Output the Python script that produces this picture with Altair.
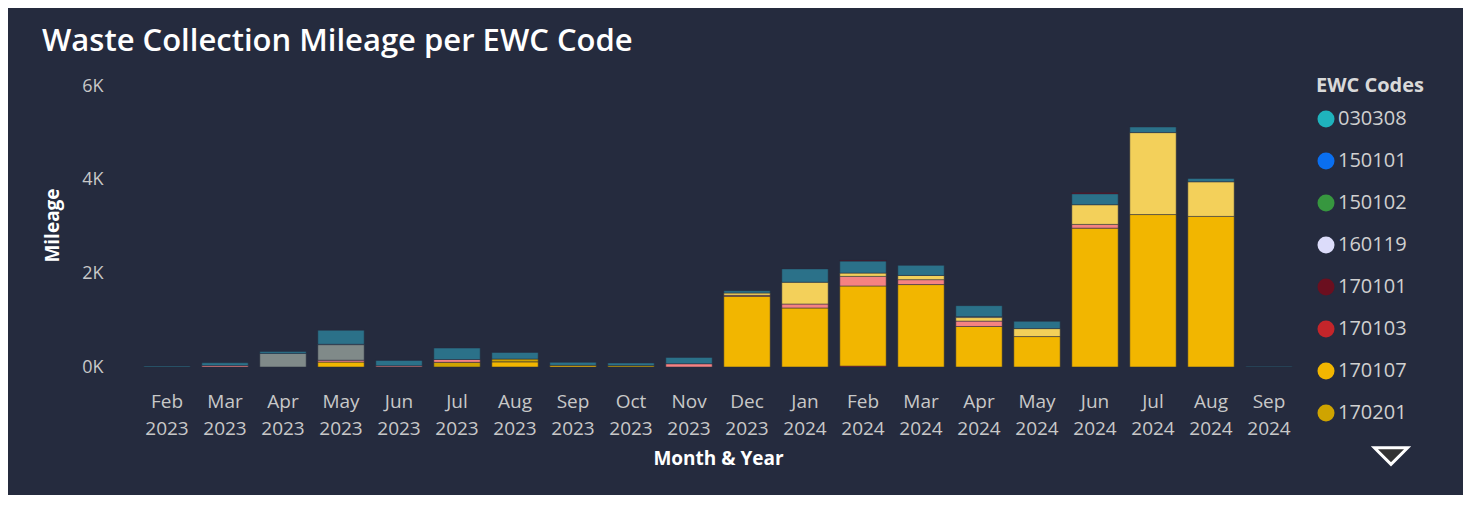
import altair as alt
import pandas as pd

months = ["Feb 2023", "Mar 2023", "Apr 2023", "May 2023", "Jun 2023", "Jul 2023",
          "Aug 2023", "Sep 2023", "Oct 2023", "Nov 2023", "Dec 2023", "Jan 2024",
          "Feb 2024", "Mar 2024", "Apr 2024", "May 2024", "Jun 2024", "Jul 2024",
          "Aug 2024", "Sep 2024"]

# legend order
codes = ["030308", "150101", "150102", "160119", "170101", "170103", "170107",
         "170201", "170203", "170504", "170802", "170904"]
colors = ["#1FB3BD", "#0A6FF0", "#37973F", "#DCDCFA", "#6B0F1F", "#C4252A", "#F2B600",
          "#CFA400", "#F58282", "#F3D05A", "#808A89", "#2B7189"]
legend_codes = codes[:8]

# stacking order, bottom to top
stack_order = ["030308", "150101", "150102", "170103", "170107", "170201", "170203",
               "170504", "170802", "160119", "170904", "170101"]

v_030308 = [0] * 20
v_150101 = [0] * 20
v_150102 = [0] * 20
v_160119 = [0, 0, 0, 10, 0, 0, 0, 0, 0, 0, 0, 0, 0, 0, 20, 0, 0, 0, 0, 0]
v_170101 = [0, 0, 0, 0, 0, 0, 0, 0, 0, 0, 0, 0, 20, 0, 0, 0, 30, 0, 0, 0]
v_170103 = [0, 0, 0, 0, 0, 0, 0, 0, 0, 0, 0, 0, 20, 0, 0, 0, 0, 0, 0, 0]
v_170107 = [0, 0, 0, 105, 0, 0, 110, 35, 0, 0, 1510, 1260, 1710, 1760, 865, 650, 2965, 3255, 3215, 0]
v_170201 = [0, 0, 0, 0, 0, 100, 60, 0, 30, 0, 0, 0, 0, 0, 0, 0, 0, 0, 0, 0]
v_170203 = [0, 30, 0, 40, 25, 60, 0, 0, 0, 70, 20, 85, 205, 105, 115, 0, 80, 0, 0, 0]
v_170504 = [0, 0, 0, 0, 0, 0, 0, 0, 0, 0, 50, 465, 70, 90, 75, 170, 420, 1750, 740, 0]
v_170802 = [0, 0, 290, 330, 0, 0, 0, 0, 0, 0, 0, 0, 0, 0, 0, 0, 0, 0, 0, 0]
v_170904 = [20, 60, 40, 300, 115, 245, 140, 65, 55, 135, 50, 285, 255, 215, 235, 155, 230, 120, 70, 15]

series = {
    "030308": v_030308, "150101": v_150101, "150102": v_150102, "160119": v_160119,
    "170101": v_170101, "170103": v_170103, "170107": v_170107, "170201": v_170201,
    "170203": v_170203, "170504": v_170504, "170802": v_170802, "170904": v_170904,
}

rows = []
for code, vals in series.items():
    for m, v in zip(months, vals):
        if v > 0:
            rows.append({"month": m, "code": code, "value": v,
                         "rank": stack_order.index(code)})
df = pd.DataFrame(rows)

FONT = "Open Sans"
BG = "#252B3E"

bars = alt.Chart(df).mark_bar(
    stroke=BG, strokeOpacity=0.5, strokeWidth=1
).encode(
    x=alt.X("month:N", sort=months,
            scale=alt.Scale(paddingInner=0.2, paddingOuter=0.1),
            axis=alt.Axis(title="Month & Year", labelAngle=0,
                          labelExpr="split(datum.label, ' ')",
                          labelLineHeight=27, labelPadding=25,
                          labelFontSize=19, labelColor="#C8C8C8", labelFont=FONT,
                          titleFontSize=19, titleFontWeight="bold", titleColor="#FFFFFF",
                          titleFont=FONT, titleBaseline="middle", titleY=91,
                          ticks=False, domain=False, grid=False)),
    y=alt.Y("value:Q", stack="zero",
            scale=alt.Scale(domain=[0, 6000], nice=False),
            axis=alt.Axis(title="Mileage", values=[0, 2000, 4000, 6000],
                          labelExpr="(datum.value/1000) + 'K'",
                          labelFontSize=18, labelColor="#C8C8C8", labelFont=FONT,
                          labelPadding=35,
                          titleFontSize=19, titleFontWeight="bold", titleColor="#FFFFFF",
                          titleFont=FONT, titleX=-86, titleY=139, titleAngle=-90,
                          titleAlign="center", titleBaseline="middle",
                          ticks=False, domain=False, grid=False)),
    color=alt.Color("code:N",
                    scale=alt.Scale(domain=codes, range=colors),
                    legend=alt.Legend(title="EWC Codes", values=legend_codes,
                                      orient="none", legendX=1178, legendY=-10,
                                      symbolType="circle", symbolSize=290,
                                      symbolStrokeWidth=0, symbolOpacity=1,
                                      labelFontSize=20, labelColor="#D0D0D0",
                                      labelFont=FONT, labelOffset=2,
                                      titleFontSize=20, titleFontWeight="bold",
                                      titleColor="#D9D9D9", titleFont=FONT,
                                      titlePadding=13, rowPadding=22)),
    order=alt.Order("rank:Q", sort="ascending"),
    tooltip=["month:N", "code:N", "value:Q"],
)

arrow = alt.Chart(pd.DataFrame({"a": [0]})).mark_point(
    shape="M-1,-0.5L1,-0.5L0,0.5Z", size=1100, filled=True,
    fill="#333333", stroke="#FFFFFF", strokeWidth=3, opacity=1
).encode(x=alt.value(1253), y=alt.value(370))

chart = alt.layer(bars, arrow).properties(
    width=1160, height=281,
    background=BG,
    padding={"left": 130, "top": 78, "right": 165, "bottom": 128},
    autosize=alt.AutoSizeParams(type="none"),
    title=alt.TitleParams(
        "Waste Collection Mileage per EWC Code",
        anchor="start", frame="group", dx=-96, offset=18,
        fontSize=31, fontWeight=600, color="#FFFFFF", font=FONT,
    ),
).configure_view(stroke=None)

chart.save("out.html", embed_options={"renderer": "svg", "actions": False})
